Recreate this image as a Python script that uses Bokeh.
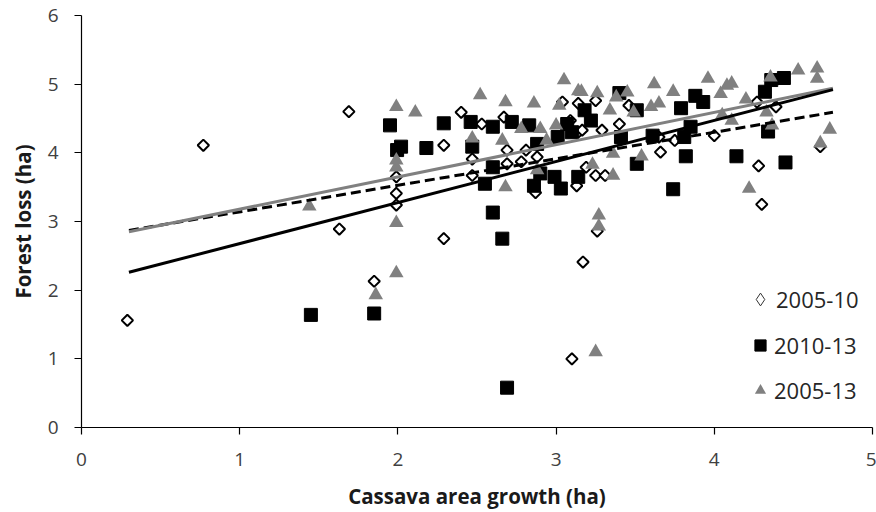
import numpy as np
from bokeh.plotting import figure
from bokeh.models import Range1d, Legend, LegendItem, FixedTicker, ColumnDataSource
from bokeh.embed import file_html
from bokeh.resources import INLINE

# ---- data ----
x_0510 = [0.29, 0.77, 1.63, 1.69, 1.85, 1.99, 1.99, 1.99, 2.29, 2.29, 2.40, 2.47, 2.47, 2.53,
          2.67, 2.69, 2.69, 2.78, 2.81, 2.87, 2.88, 3.04, 3.10, 3.09, 3.14, 3.14, 3.13, 3.17,
          3.19, 3.165, 3.25, 3.26, 3.29, 3.25, 3.31, 3.40, 3.46, 3.65, 3.66, 3.75, 4.00, 4.27,
          4.28, 4.30, 4.39, 4.67]
y_0510 = [1.56, 4.11, 2.89, 4.60, 2.13, 3.65, 3.41, 3.24, 4.11, 2.75, 4.59, 3.91, 3.67, 4.42,
          4.52, 4.04, 3.84, 3.87, 4.04, 3.42, 3.94, 4.74, 1.00, 4.47, 4.72, 4.30, 3.52, 2.41,
          3.79, 4.33, 4.76, 2.86, 4.33, 3.67, 3.67, 4.42, 4.69, 4.23, 4.01, 4.18, 4.25, 4.74,
          3.81, 3.25, 4.67, 4.09]

x_1013 = [1.45, 1.85, 1.95, 1.995, 2.02, 2.18, 2.29, 2.46, 2.47, 2.55, 2.60, 2.60, 2.60, 2.66,
          2.69, 2.72, 2.83, 2.86, 2.88, 2.90, 2.99, 3.03, 3.01, 3.07, 3.10, 3.14, 3.18, 3.22,
          3.40, 3.41, 3.51, 3.51, 3.61, 3.74, 3.79, 3.81, 3.82, 3.85, 3.88, 3.93, 4.14, 4.32,
          4.34, 4.36, 4.44, 4.45]
y_1013 = [1.64, 1.66, 4.40, 4.04, 4.09, 4.07, 4.43, 4.45, 4.09, 3.55, 3.79, 4.38, 3.13, 2.75,
          0.58, 4.45, 4.40, 3.52, 4.13, 3.70, 3.65, 3.48, 4.23, 4.42, 4.30, 3.65, 4.62, 4.47,
          4.87, 4.23, 4.62, 3.84, 4.25, 3.47, 4.65, 4.23, 3.95, 4.38, 4.83, 4.74, 3.95, 4.89,
          4.31, 5.06, 5.09, 3.86]

x_0513 = [1.44, 1.86, 1.99, 1.99, 1.99, 1.99, 1.99, 2.11, 2.47, 2.52, 2.66, 2.68, 2.68, 2.78,
          2.86, 2.88, 2.90, 2.94, 3.00, 3.02, 3.05, 3.14, 3.16, 3.23, 3.25, 3.26, 3.27, 3.27,
          3.34, 3.36, 3.36, 3.38, 3.45, 3.49, 3.54, 3.60, 3.65, 3.62, 3.74, 3.96, 4.04, 4.05,
          4.08, 4.11, 4.11, 4.20, 4.22, 4.33, 4.355, 4.365, 4.53, 4.65, 4.65, 4.67, 4.73]
y_0513 = [3.22, 1.93, 2.25, 2.98, 3.79, 3.89, 4.67, 4.59, 4.21, 4.84, 4.18, 4.74, 3.50, 4.35,
          4.72, 3.75, 4.35, 4.18, 4.40, 4.69, 5.06, 4.90, 4.89, 3.83, 1.10, 4.87, 3.09, 2.93,
          4.62, 3.99, 3.67, 4.81, 4.88, 4.59, 3.95, 4.67, 4.72, 5.00, 4.89, 5.08, 4.86, 4.55,
          4.98, 5.01, 4.47, 4.78, 3.48, 4.59, 5.10, 4.40, 5.20, 5.23, 5.08, 4.14, 4.34]

trend_x = [0.30, 4.75]
trend_0510 = [2.87, 4.59]
trend_1013 = [2.26, 4.92]
trend_0513 = [2.85, 4.94]

labels = ["2005-10", "2010-13", "2005-13"]
x_ticks = [0, 1, 2, 3, 4, 5]
y_ticks = [0, 1, 2, 3, 4, 5, 6]

FONT = "Open Sans"

p = figure(width=876, height=512, output_backend="svg", toolbar_location=None,
           x_range=Range1d(0, 5), y_range=Range1d(0, 6),
           min_border_left=81, min_border_right=4, min_border_top=15, min_border_bottom=85)
p.outline_line_color = None
p.grid.visible = False
p.background_fill_color = "white"
p.border_fill_color = "white"

for ax, ticks in ((p.xaxis[0], x_ticks), (p.yaxis[0], y_ticks)):
    ax.ticker = FixedTicker(ticks=ticks)
    ax.minor_tick_line_color = None
    ax.major_tick_out = 7
    ax.major_tick_in = 0
    ax.axis_line_color = "#000000"
    ax.major_tick_line_color = "#000000"
    ax.axis_line_width = 1.2
    ax.major_tick_line_width = 1.2
    ax.major_label_text_font = FONT
    ax.major_label_text_font_size = "19px"
    ax.major_label_text_color = "#404040"
    ax.axis_label_text_font = FONT
    ax.axis_label_text_font_size = "20.5px"
    ax.axis_label_text_font_style = "bold"
    ax.axis_label_text_color = "#1a1a1a"

p.xaxis[0].axis_label = "Cassava area growth (ha)"
p.yaxis[0].axis_label = "Forest loss (ha)"
p.xaxis[0].major_label_standoff = 18
p.xaxis[0].axis_label_standoff = 13
p.yaxis[0].major_label_standoff = 16
p.yaxis[0].axis_label_standoff = 8

s1 = ColumnDataSource(dict(x=x_0510, y=y_0510))
s2 = ColumnDataSource(dict(x=x_1013, y=y_1013))
s3 = ColumnDataSource(dict(x=x_0513, y=y_0513))

r1 = p.scatter("x", "y", source=s1, marker="square", angle=np.pi / 4, size=8,
               fill_color="white", line_color="black", line_width=2)
r2 = p.scatter("x", "y", source=s2, marker="square", size=13,
               fill_color="black", line_color="black", line_width=1)
r3 = p.scatter("x", "y", source=s3, marker="triangle", size=14.5,
               fill_color="#808080", line_color=None)

p.line(trend_x, trend_0510, line_color="black", line_width=3, line_dash="10 5")
p.line(trend_x, trend_0513, line_color="#808080", line_width=3)
p.line(trend_x, trend_1013, line_color="black", line_width=3)

# legend-only symbols (a single NaN row so nothing is drawn in the plot area)
def nan_source():
    return ColumnDataSource(dict(x=np.array([np.nan]), y=np.array([np.nan])))

e1 = p.scatter("x", "y", source=nan_source(), marker="diamond",
               fill_color="white", line_color="#333333", line_width=1)
e2 = p.scatter("x", "y", source=nan_source(), marker="square",
               fill_color="black", line_color="black")
e3 = p.scatter("x", "y", source=nan_source(), marker="triangle",
               fill_color="#808080", line_color=None)

common = dict(padding=0, margin=0, label_standoff=0, border_line_color=None,
              background_fill_alpha=0, label_text_font=FONT,
              label_text_font_size="22px", label_text_color="#262626")

legend_top = Legend(items=[LegendItem(label=labels[0], renderers=[e1])],
                    location=(663, 112), glyph_width=32, glyph_height=32,
                    label_height=32, **common)
legend = Legend(items=[LegendItem(label=labels[1], renderers=[e2]),
                       LegendItem(label=labels[2], renderers=[e3])],
                location=(665, 22), glyph_width=28, glyph_height=28,
                label_height=28, spacing=15, **common)
p.add_layout(legend_top, "center")
p.add_layout(legend, "center")

open("out.html", "w").write(file_html(p, INLINE))
